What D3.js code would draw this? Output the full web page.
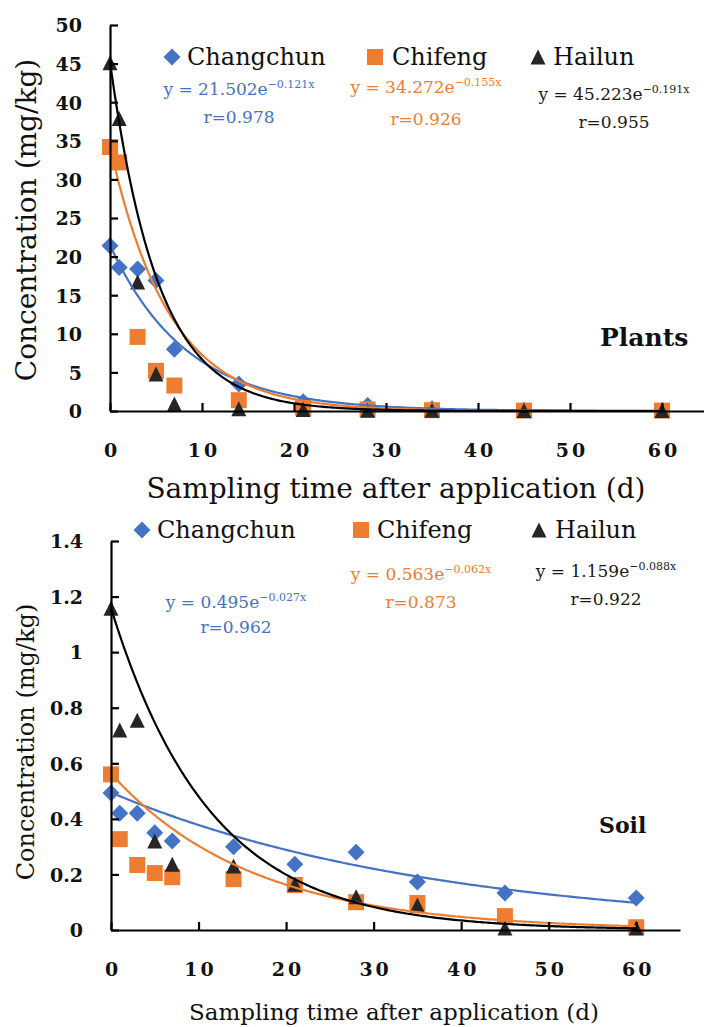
<!DOCTYPE html>
<html>
<head>
<meta charset="utf-8">
<script src="https://cdn.jsdelivr.net/npm/d3@7"></script>
<style>
  html, body { margin: 0; padding: 0; background: #fff; }
  svg { display: block; font-family: "DejaVu Serif", serif; }
  .axis path, .axis line { stroke: #000; stroke-width: 2.2; }
  .axis text { font-family: "DejaVu Serif", serif; font-weight: bold; font-size: 19px; fill: #111; }
</style>
</head>
<body>
<svg id="chart" width="704" height="1027"></svg>
<script>
(function () {
  "use strict";

  const days = [0, 1, 3, 5, 7, 14, 21, 28, 35, 45, 60];
  const siteNames = ["Changchun", "Chifeng", "Hailun"];
  const xTickLabels = ["0", "10", "20", "30", "40", "50", "60"];

  const plantChangchun = [21.4, 18.6, 18.4, 16.9, 8.0, 3.5, 1.2, 0.7, 0.3, 0.1, 0.1];
  const plantChifeng = [34.2, 32.2, 9.6, 5.2, 3.3, 1.4, 0.4, 0.2, 0.1, 0.05, 0.05];
  const plantHailun = [45.1, 37.9, 16.7, 4.8, 0.9, 0.3, 0.2, 0.1, 0.1, 0.05, 0.05];
  const plantFitA = [21.502, 34.272, 45.223];
  const plantFitB = [0.121, 0.155, 0.191];
  const plantR = ["0.978", "0.926", "0.955"];
  const plantYTickLabels = ["0", "5", "10", "15", "20", "25", "30", "35", "40", "45", "50"];

  const soilChangchun = [0.493, 0.42, 0.42, 0.35, 0.32, 0.30, 0.237, 0.28, 0.173, 0.133, 0.115];
  const soilChifeng = [0.56, 0.327, 0.234, 0.205, 0.19, 0.183, 0.162, 0.10, 0.097, 0.05, 0.01];
  const soilHailun = [1.158, 0.72, 0.755, 0.32, 0.237, 0.23, 0.165, 0.12, 0.09, 0.007, 0.007];
  const soilFitA = [0.495, 0.563, 1.159];
  const soilFitB = [0.027, 0.062, 0.088];
  const soilR = ["0.962", "0.873", "0.922"];
  const soilYTickLabels = ["0", "0.2", "0.4", "0.6", "0.8", "1", "1.2", "1.4"];

  const COLORS = ["#4472C4", "#ED7D31", "#262626"];
  const CURVE_COLORS = ["#4472C4", "#ED7D31", "#000000"];
  const EQ_COLORS = ["#4472C4", "#ED7D31", "#1a1a1a"];

  const diamond = {
    draw(ctx, size) {
      const r = Math.sqrt(size) / 2;
      ctx.moveTo(0, -r); ctx.lineTo(r, 0); ctx.lineTo(0, r); ctx.lineTo(-r, 0); ctx.closePath();
    }
  };
  const triangle = {
    draw(ctx, size) {
      const s = Math.sqrt(size);
      ctx.moveTo(0, -s / 2); ctx.lineTo(s / 2, s / 2); ctx.lineTo(-s / 2, s / 2); ctx.closePath();
    }
  };
  const shapes = [diamond, d3.symbolSquare, triangle];
  const shapeSizes = [17 * 17, 16 * 16, 15 * 15];

  const svg = d3.select("#chart");

  function drawPanel(p) {
    const g = svg.append("g");
    const x = d3.scaleLinear().domain([0, 65]).range(p.xRange);
    const y = d3.scaleLinear().domain(p.yDomain).range(p.yRange);

    // markers first, trendlines over them (Excel order)
    p.series.forEach((values, i) => {
      g.append("g").selectAll("path")
        .data(values.map((v, j) => ({ d: days[j], v })))
        .join("path")
        .attr("transform", d => `translate(${x(d.d)},${y(d.v)})`)
        .attr("d", d3.symbol().type(shapes[i]).size(shapeSizes[i]))
        .attr("fill", COLORS[i]);
    });

    const line = d3.line().x(d => x(d)).y((d, k, arr) => y(arr.fit(d)));
    p.fitA.forEach((a, i) => {
      const b = p.fitB[i];
      const pts = d3.range(0, 60.001, 0.25);
      g.append("path")
        .attr("fill", "none")
        .attr("stroke", CURVE_COLORS[i])
        .attr("stroke-width", 2.2)
        .attr("d", d3.line().x(t => x(t)).y(t => y(a * Math.exp(-b * t)))(pts));
    });

    g.append("g")
      .attr("class", "axis")
      .attr("transform", `translate(${p.xRange[0]},0)`)
      .call(d3.axisLeft(y)
        .tickValues(p.yTickLabels.map(Number))
        .tickFormat((d, i) => p.yTickLabels[i])
        .tickSizeInner(-8).tickSizeOuter(0).tickPadding(28))
      .call(s => s.selectAll("text").attr("dy", "0.36em"));

    g.append("g")
      .attr("class", "axis")
      .attr("transform", `translate(0,${p.yRange[0]})`)
      .call(d3.axisBottom(x)
        .tickValues(xTickLabels.map(Number))
        .tickFormat((d, i) => xTickLabels[i])
        .tickSizeInner(-8).tickSizeOuter(0).tickPadding(p.xPad))
      .call(s => s.selectAll("text").attr("letter-spacing", 3).attr("dx", 1.5));

    // legend
    siteNames.forEach((name, i) => {
      const item = p.legend[i];
      g.append("path")
        .attr("transform", `translate(${item.mx},${p.legendY})`)
        .attr("d", d3.symbol().type(shapes[i]).size(shapeSizes[i]))
        .attr("fill", COLORS[i]);
      g.append("text")
        .attr("x", item.tx)
        .attr("y", p.legendY + 8)
        .attr("font-size", 24)
        .attr("fill", "#111")
        .text(name);
    });

    // trendline equations
    p.fitA.forEach((a, i) => {
      const pos = p.eq[i];
      const t = g.append("text")
        .attr("x", pos.x)
        .attr("y", pos.y)
        .attr("text-anchor", "middle")
        .attr("font-size", 17)
        .attr("fill", EQ_COLORS[i]);
      t.append("tspan").text(`y = ${a.toFixed(3)}e`);
      t.append("tspan")
        .attr("font-size", 11)
        .attr("dy", -7)
        .text(`\u2212${p.fitB[i].toFixed(3)}x`);
      g.append("text")
        .attr("x", pos.x)
        .attr("y", pos.ry)
        .attr("text-anchor", "middle")
        .attr("font-size", 17)
        .attr("fill", EQ_COLORS[i])
        .text(`r=${p.r[i]}`);
    });

    g.append("text")
      .attr("x", p.name.x)
      .attr("y", p.name.y)
      .attr("font-size", p.name.size)
      .attr("font-weight", "bold")
      .attr("fill", "#111")
      .text(p.name.text);

    g.append("text")
      .attr("transform", `translate(${p.yTitle.x},${p.yTitle.y}) rotate(-90)`)
      .attr("text-anchor", "middle")
      .attr("font-size", p.yTitle.size)
      .attr("fill", "#111")
      .text("Concentration (mg/kg)");

    g.append("text")
      .attr("x", p.xTitle.x)
      .attr("y", p.xTitle.y)
      .attr("text-anchor", "middle")
      .attr("font-size", p.xTitle.size)
      .attr("fill", "#111")
      .text("Sampling time after application (d)");
  }

  drawPanel({
    xRange: [110, 708],
    yRange: [411, 25],
    yDomain: [0, 50],
    xPad: 33,
    series: [plantChangchun, plantChifeng, plantHailun],
    fitA: plantFitA,
    fitB: plantFitB,
    r: plantR,
    yTickLabels: plantYTickLabels,
    legendY: 57,
    legend: [{ mx: 172, tx: 187 }, { mx: 375, tx: 392 }, { mx: 538, tx: 553 }],
    eq: [{ x: 239, y: 95, ry: 123 }, { x: 426, y: 93, ry: 125 }, { x: 614, y: 100, ry: 128 }],
    name: { text: "Plants", x: 600, y: 346, size: 25 },
    yTitle: { x: 36, y: 220, size: 28 },
    xTitle: { x: 396, y: 498, size: 28 }
  });

  drawPanel({
    xRange: [111, 680],
    yRange: [930, 541],
    yDomain: [0, 1.4],
    xPad: 33,
    series: [soilChangchun, soilChifeng, soilHailun],
    fitA: soilFitA,
    fitB: soilFitB,
    r: soilR,
    yTickLabels: soilYTickLabels,
    legendY: 530,
    legend: [{ mx: 142, tx: 157 }, { mx: 361, tx: 377 }, { mx: 539, tx: 555 }],
    eq: [{ x: 236, y: 608, ry: 633 }, { x: 421, y: 580, ry: 608 }, { x: 606, y: 577, ry: 605 }],
    name: { text: "Soil", x: 599, y: 833, size: 22 },
    yTitle: { x: 34, y: 742, size: 24 },
    xTitle: { x: 394, y: 1020, size: 23 }
  });
})();
</script>
</body>
</html>
